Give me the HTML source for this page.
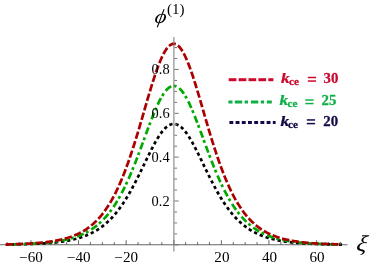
<!DOCTYPE html><html><head><meta charset="utf-8"><style>html,body{margin:0;padding:0;background:#fff}body{width:371px;height:267px;overflow:hidden}</style></head><body><svg width="371" height="267" viewBox="0 0 371 267" style="display:block;will-change:transform">
<rect width="371" height="267" fill="#fff"/>
<g stroke="#666" stroke-width="1" fill="none">
<path d="M0 244.75 H347.5"/>
<path d="M7.15 245 v-2.9"/>
<path d="M19.05 245 v-2.9"/>
<path d="M30.95 245 v-4.8"/>
<path d="M42.85 245 v-2.9"/>
<path d="M54.75 245 v-2.9"/>
<path d="M66.65 245 v-2.9"/>
<path d="M78.55 245 v-4.8"/>
<path d="M90.45 245 v-2.9"/>
<path d="M102.35 245 v-2.9"/>
<path d="M114.25 245 v-2.9"/>
<path d="M126.15 245 v-4.8"/>
<path d="M138.05 245 v-2.9"/>
<path d="M149.95 245 v-2.9"/>
<path d="M161.85 245 v-2.9"/>
<path d="M173.92 245 v-4.8"/>
<path d="M185.65 245 v-2.9"/>
<path d="M197.55 245 v-2.9"/>
<path d="M209.45 245 v-2.9"/>
<path d="M221.35 245 v-4.8"/>
<path d="M233.25 245 v-2.9"/>
<path d="M245.15 245 v-2.9"/>
<path d="M257.05 245 v-2.9"/>
<path d="M268.95 245 v-4.8"/>
<path d="M280.85 245 v-2.9"/>
<path d="M292.75 245 v-2.9"/>
<path d="M304.65 245 v-2.9"/>
<path d="M316.55 245 v-4.8"/>
<path d="M328.45 245 v-2.9"/>
<path d="M340.35 245 v-2.9"/>
</g>
<g fill="none" stroke-width="2.7">
<path d="M5.79 244.58 L6.99 244.56 L8.19 244.55 L9.39 244.53 L10.59 244.51 L11.79 244.50 L12.99 244.48 L14.19 244.46 L15.39 244.44 L16.59 244.41 L17.79 244.39 L18.99 244.36 L20.19 244.34 L21.39 244.31 L22.59 244.28 L23.79 244.25 L24.99 244.21 L26.19 244.18 L27.39 244.14 L28.59 244.10 L29.79 244.06 L30.99 244.02 L32.19 243.97 L33.39 243.93 L34.59 243.88 L35.79 243.82 L36.99 243.77 L38.19 243.71 L39.38 243.64 L40.58 243.58 L41.78 243.51 L42.98 243.44 L44.18 243.36 L45.38 243.28 L46.58 243.19 L47.78 243.10 L48.98 243.01 L50.18 242.91 L51.38 242.80 L52.58 242.69 L53.78 242.57 L54.98 242.45 L56.18 242.32 L57.38 242.18 L58.58 242.03 L59.78 241.88 L60.98 241.72 L62.18 241.55 L63.38 241.37 L64.58 241.18 L65.78 240.98 L66.98 240.78 L68.18 240.56 L69.38 240.32 L70.58 240.08 L71.78 239.82 L72.98 239.55 L74.18 239.27 L75.38 238.97 L76.58 238.66 L77.77 238.33 L78.97 237.98 L80.17 237.61 L81.37 237.23 L82.57 236.82 L83.77 236.40 L84.97 235.95 L86.17 235.48 L87.37 234.99 L88.57 234.47 L89.77 233.92 L90.97 233.35 L92.17 232.75 L93.37 232.13 L94.57 231.47 L95.77 230.77 L96.97 230.05 L98.17 229.29 L99.37 228.50 L100.57 227.66 L101.77 226.79 L102.97 225.88 L104.17 224.93 L105.37 223.93 L106.57 222.89 L107.77 221.81 L108.97 220.68 L110.17 219.50 L111.37 218.27 L112.57 216.98 L113.77 215.65 L114.97 214.26 L116.16 212.82 L117.36 211.33 L118.56 209.77 L119.76 208.16 L120.96 206.50 L122.16 204.77 L123.36 202.99 L124.56 201.15 L125.76 199.26 L126.96 197.30 L128.16 195.29 L129.36 193.23 L130.56 191.12 L131.76 188.95 L132.96 186.73 L134.16 184.47 L135.36 182.16 L136.56 179.82 L137.76 177.43 L138.96 175.02 L140.16 172.58 L141.36 170.12 L142.56 167.64 L143.76 165.15 L144.96 162.66 L146.16 160.18 L147.36 157.71 L148.56 155.25 L149.76 152.83 L150.96 150.44 L152.16 148.10 L153.36 145.82 L154.55 143.60 L155.75 141.45 L156.95 139.39 L158.15 137.42 L159.35 135.55 L160.55 133.79 L161.75 132.15 L162.95 130.64 L164.15 129.27 L165.35 128.04 L166.55 126.96 L167.75 126.04 L168.95 125.27 L170.15 124.68 L171.35 124.25 L172.55 123.99 L173.75 123.90 L174.95 123.99 L176.15 124.25 L177.35 124.68 L178.55 125.27 L179.75 126.04 L180.95 126.96 L182.15 128.04 L183.35 129.27 L184.55 130.64 L185.75 132.15 L186.95 133.79 L188.15 135.55 L189.35 137.42 L190.55 139.39 L191.75 141.45 L192.95 143.60 L194.14 145.82 L195.34 148.10 L196.54 150.44 L197.74 152.83 L198.94 155.25 L200.14 157.71 L201.34 160.18 L202.54 162.66 L203.74 165.15 L204.94 167.64 L206.14 170.12 L207.34 172.58 L208.54 175.02 L209.74 177.43 L210.94 179.82 L212.14 182.16 L213.34 184.47 L214.54 186.73 L215.74 188.95 L216.94 191.12 L218.14 193.23 L219.34 195.29 L220.54 197.30 L221.74 199.26 L222.94 201.15 L224.14 202.99 L225.34 204.77 L226.54 206.50 L227.74 208.16 L228.94 209.77 L230.14 211.33 L231.34 212.82 L232.53 214.26 L233.73 215.65 L234.93 216.98 L236.13 218.27 L237.33 219.50 L238.53 220.68 L239.73 221.81 L240.93 222.89 L242.13 223.93 L243.33 224.93 L244.53 225.88 L245.73 226.79 L246.93 227.66 L248.13 228.50 L249.33 229.29 L250.53 230.05 L251.73 230.77 L252.93 231.47 L254.13 232.13 L255.33 232.75 L256.53 233.35 L257.73 233.92 L258.93 234.47 L260.13 234.99 L261.33 235.48 L262.53 235.95 L263.73 236.40 L264.93 236.82 L266.13 237.23 L267.33 237.61 L268.53 237.98 L269.73 238.33 L270.92 238.66 L272.12 238.97 L273.32 239.27 L274.52 239.55 L275.72 239.82 L276.92 240.08 L278.12 240.32 L279.32 240.56 L280.52 240.78 L281.72 240.98 L282.92 241.18 L284.12 241.37 L285.32 241.55 L286.52 241.72 L287.72 241.88 L288.92 242.03 L290.12 242.18 L291.32 242.32 L292.52 242.45 L293.72 242.57 L294.92 242.69 L296.12 242.80 L297.32 242.91 L298.52 243.01 L299.72 243.10 L300.92 243.19 L302.12 243.28 L303.32 243.36 L304.52 243.44 L305.72 243.51 L306.92 243.58 L308.12 243.64 L309.31 243.71 L310.51 243.77 L311.71 243.82 L312.91 243.88 L314.11 243.93 L315.31 243.97 L316.51 244.02 L317.71 244.06 L318.91 244.10 L320.11 244.14 L321.31 244.18 L322.51 244.21 L323.71 244.25 L324.91 244.28 L326.11 244.31 L327.31 244.34 L328.51 244.36 L329.71 244.39 L330.91 244.41 L332.11 244.44 L333.31 244.46 L334.51 244.48 L335.71 244.50 L336.91 244.51 L338.11 244.53 L339.31 244.55 L340.51 244.56 L341.71 244.58" stroke="#000" stroke-dasharray="3.3 2.9" stroke-dashoffset="0.5"/>
<path d="M5.79 244.49 L6.99 244.47 L8.19 244.45 L9.39 244.43 L10.59 244.41 L11.79 244.39 L12.99 244.36 L14.19 244.33 L15.39 244.30 L16.59 244.27 L17.79 244.24 L18.99 244.21 L20.19 244.17 L21.39 244.14 L22.59 244.10 L23.79 244.06 L24.99 244.01 L26.19 243.97 L27.39 243.92 L28.59 243.87 L29.79 243.82 L30.99 243.76 L32.19 243.70 L33.39 243.64 L34.59 243.57 L35.79 243.50 L36.99 243.43 L38.19 243.35 L39.38 243.27 L40.58 243.18 L41.78 243.09 L42.98 242.99 L44.18 242.89 L45.38 242.78 L46.58 242.67 L47.78 242.55 L48.98 242.43 L50.18 242.29 L51.38 242.16 L52.58 242.01 L53.78 241.85 L54.98 241.69 L56.18 241.52 L57.38 241.34 L58.58 241.15 L59.78 240.95 L60.98 240.74 L62.18 240.51 L63.38 240.28 L64.58 240.03 L65.78 239.77 L66.98 239.50 L68.18 239.21 L69.38 238.90 L70.58 238.58 L71.78 238.25 L72.98 237.89 L74.18 237.52 L75.38 237.12 L76.58 236.71 L77.77 236.28 L78.97 235.82 L80.17 235.34 L81.37 234.83 L82.57 234.30 L83.77 233.74 L84.97 233.15 L86.17 232.54 L87.37 231.89 L88.57 231.21 L89.77 230.49 L90.97 229.74 L92.17 228.95 L93.37 228.13 L94.57 227.26 L95.77 226.35 L96.97 225.40 L98.17 224.40 L99.37 223.36 L100.57 222.26 L101.77 221.12 L102.97 219.92 L104.17 218.67 L105.37 217.36 L106.57 216.00 L107.77 214.57 L108.97 213.08 L110.17 211.53 L111.37 209.91 L112.57 208.23 L113.77 206.48 L114.97 204.65 L116.16 202.76 L117.36 200.79 L118.56 198.75 L119.76 196.64 L120.96 194.45 L122.16 192.18 L123.36 189.84 L124.56 187.42 L125.76 184.93 L126.96 182.37 L128.16 179.73 L129.36 177.01 L130.56 174.23 L131.76 171.38 L132.96 168.47 L134.16 165.50 L135.36 162.47 L136.56 159.38 L137.76 156.25 L138.96 153.08 L140.16 149.87 L141.36 146.64 L142.56 143.38 L143.76 140.11 L144.96 136.84 L146.16 133.58 L147.36 130.33 L148.56 127.10 L149.76 123.92 L150.96 120.78 L152.16 117.70 L153.36 114.70 L154.55 111.78 L155.75 108.96 L156.95 106.25 L158.15 103.66 L159.35 101.21 L160.55 98.90 L161.75 96.75 L162.95 94.76 L164.15 92.96 L165.35 91.34 L166.55 89.92 L167.75 88.71 L168.95 87.70 L170.15 86.92 L171.35 86.35 L172.55 86.01 L173.75 85.90 L174.95 86.01 L176.15 86.35 L177.35 86.92 L178.55 87.70 L179.75 88.71 L180.95 89.92 L182.15 91.34 L183.35 92.96 L184.55 94.76 L185.75 96.75 L186.95 98.90 L188.15 101.21 L189.35 103.66 L190.55 106.25 L191.75 108.96 L192.95 111.78 L194.14 114.70 L195.34 117.70 L196.54 120.78 L197.74 123.92 L198.94 127.10 L200.14 130.33 L201.34 133.58 L202.54 136.84 L203.74 140.11 L204.94 143.38 L206.14 146.64 L207.34 149.87 L208.54 153.08 L209.74 156.25 L210.94 159.38 L212.14 162.47 L213.34 165.50 L214.54 168.47 L215.74 171.38 L216.94 174.23 L218.14 177.01 L219.34 179.73 L220.54 182.37 L221.74 184.93 L222.94 187.42 L224.14 189.84 L225.34 192.18 L226.54 194.45 L227.74 196.64 L228.94 198.75 L230.14 200.79 L231.34 202.76 L232.53 204.65 L233.73 206.48 L234.93 208.23 L236.13 209.91 L237.33 211.53 L238.53 213.08 L239.73 214.57 L240.93 216.00 L242.13 217.36 L243.33 218.67 L244.53 219.92 L245.73 221.12 L246.93 222.26 L248.13 223.36 L249.33 224.40 L250.53 225.40 L251.73 226.35 L252.93 227.26 L254.13 228.13 L255.33 228.95 L256.53 229.74 L257.73 230.49 L258.93 231.21 L260.13 231.89 L261.33 232.54 L262.53 233.15 L263.73 233.74 L264.93 234.30 L266.13 234.83 L267.33 235.34 L268.53 235.82 L269.73 236.28 L270.92 236.71 L272.12 237.12 L273.32 237.52 L274.52 237.89 L275.72 238.25 L276.92 238.58 L278.12 238.90 L279.32 239.21 L280.52 239.50 L281.72 239.77 L282.92 240.03 L284.12 240.28 L285.32 240.51 L286.52 240.74 L287.72 240.95 L288.92 241.15 L290.12 241.34 L291.32 241.52 L292.52 241.69 L293.72 241.85 L294.92 242.01 L296.12 242.16 L297.32 242.29 L298.52 242.43 L299.72 242.55 L300.92 242.67 L302.12 242.78 L303.32 242.89 L304.52 242.99 L305.72 243.09 L306.92 243.18 L308.12 243.27 L309.31 243.35 L310.51 243.43 L311.71 243.50 L312.91 243.57 L314.11 243.64 L315.31 243.70 L316.51 243.76 L317.71 243.82 L318.91 243.87 L320.11 243.92 L321.31 243.97 L322.51 244.01 L323.71 244.06 L324.91 244.10 L326.11 244.14 L327.31 244.17 L328.51 244.21 L329.71 244.24 L330.91 244.27 L332.11 244.30 L333.31 244.33 L334.51 244.36 L335.71 244.39 L336.91 244.41 L338.11 244.43 L339.31 244.45 L340.51 244.47 L341.71 244.49" stroke="#00aa00" stroke-dasharray="7.2 2.55 2.85 3.35" stroke-dashoffset="7.8"/>
<path d="M5.79 244.40 L6.99 244.38 L8.19 244.35 L9.39 244.32 L10.59 244.29 L11.79 244.26 L12.99 244.23 L14.19 244.20 L15.39 244.16 L16.59 244.12 L17.79 244.08 L18.99 244.04 L20.19 244.00 L21.39 243.95 L22.59 243.90 L23.79 243.85 L24.99 243.79 L26.19 243.74 L27.39 243.67 L28.59 243.61 L29.79 243.54 L30.99 243.47 L32.19 243.39 L33.39 243.31 L34.59 243.23 L35.79 243.14 L36.99 243.05 L38.19 242.95 L39.38 242.85 L40.58 242.74 L41.78 242.62 L42.98 242.50 L44.18 242.37 L45.38 242.24 L46.58 242.09 L47.78 241.94 L48.98 241.79 L50.18 241.62 L51.38 241.44 L52.58 241.26 L53.78 241.06 L54.98 240.85 L56.18 240.64 L57.38 240.41 L58.58 240.17 L59.78 239.91 L60.98 239.65 L62.18 239.36 L63.38 239.07 L64.58 238.75 L65.78 238.42 L66.98 238.08 L68.18 237.71 L69.38 237.33 L70.58 236.92 L71.78 236.50 L72.98 236.05 L74.18 235.57 L75.38 235.08 L76.58 234.55 L77.77 234.00 L78.97 233.43 L80.17 232.82 L81.37 232.18 L82.57 231.51 L83.77 230.80 L84.97 230.05 L86.17 229.27 L87.37 228.45 L88.57 227.59 L89.77 226.69 L90.97 225.74 L92.17 224.74 L93.37 223.70 L94.57 222.60 L95.77 221.45 L96.97 220.25 L98.17 218.99 L99.37 217.67 L100.57 216.28 L101.77 214.84 L102.97 213.32 L104.17 211.74 L105.37 210.08 L106.57 208.35 L107.77 206.55 L108.97 204.67 L110.17 202.71 L111.37 200.66 L112.57 198.53 L113.77 196.31 L114.97 194.01 L116.16 191.61 L117.36 189.12 L118.56 186.54 L119.76 183.87 L120.96 181.10 L122.16 178.23 L123.36 175.27 L124.56 172.21 L125.76 169.06 L126.96 165.82 L128.16 162.48 L129.36 159.05 L130.56 155.53 L131.76 151.93 L132.96 148.24 L134.16 144.48 L135.36 140.65 L136.56 136.75 L137.76 132.79 L138.96 128.77 L140.16 124.72 L141.36 120.62 L142.56 116.51 L143.76 112.37 L144.96 108.23 L146.16 104.10 L147.36 99.99 L148.56 95.92 L149.76 91.89 L150.96 87.92 L152.16 84.03 L153.36 80.23 L154.55 76.54 L155.75 72.97 L156.95 69.54 L158.15 66.27 L159.35 63.16 L160.55 60.24 L161.75 57.52 L162.95 55.01 L164.15 52.73 L165.35 50.68 L166.55 48.89 L167.75 47.35 L168.95 46.08 L170.15 45.09 L171.35 44.37 L172.55 43.94 L173.75 43.80 L174.95 43.94 L176.15 44.37 L177.35 45.09 L178.55 46.08 L179.75 47.35 L180.95 48.89 L182.15 50.68 L183.35 52.73 L184.55 55.01 L185.75 57.52 L186.95 60.24 L188.15 63.16 L189.35 66.27 L190.55 69.54 L191.75 72.97 L192.95 76.54 L194.14 80.23 L195.34 84.03 L196.54 87.92 L197.74 91.89 L198.94 95.92 L200.14 99.99 L201.34 104.10 L202.54 108.23 L203.74 112.37 L204.94 116.51 L206.14 120.62 L207.34 124.72 L208.54 128.77 L209.74 132.79 L210.94 136.75 L212.14 140.65 L213.34 144.48 L214.54 148.24 L215.74 151.93 L216.94 155.53 L218.14 159.05 L219.34 162.48 L220.54 165.82 L221.74 169.06 L222.94 172.21 L224.14 175.27 L225.34 178.23 L226.54 181.10 L227.74 183.87 L228.94 186.54 L230.14 189.12 L231.34 191.61 L232.53 194.01 L233.73 196.31 L234.93 198.53 L236.13 200.66 L237.33 202.71 L238.53 204.67 L239.73 206.55 L240.93 208.35 L242.13 210.08 L243.33 211.74 L244.53 213.32 L245.73 214.84 L246.93 216.28 L248.13 217.67 L249.33 218.99 L250.53 220.25 L251.73 221.45 L252.93 222.60 L254.13 223.70 L255.33 224.74 L256.53 225.74 L257.73 226.69 L258.93 227.59 L260.13 228.45 L261.33 229.27 L262.53 230.05 L263.73 230.80 L264.93 231.51 L266.13 232.18 L267.33 232.82 L268.53 233.43 L269.73 234.00 L270.92 234.55 L272.12 235.08 L273.32 235.57 L274.52 236.05 L275.72 236.50 L276.92 236.92 L278.12 237.33 L279.32 237.71 L280.52 238.08 L281.72 238.42 L282.92 238.75 L284.12 239.07 L285.32 239.36 L286.52 239.65 L287.72 239.91 L288.92 240.17 L290.12 240.41 L291.32 240.64 L292.52 240.85 L293.72 241.06 L294.92 241.26 L296.12 241.44 L297.32 241.62 L298.52 241.79 L299.72 241.94 L300.92 242.09 L302.12 242.24 L303.32 242.37 L304.52 242.50 L305.72 242.62 L306.92 242.74 L308.12 242.85 L309.31 242.95 L310.51 243.05 L311.71 243.14 L312.91 243.23 L314.11 243.31 L315.31 243.39 L316.51 243.47 L317.71 243.54 L318.91 243.61 L320.11 243.67 L321.31 243.74 L322.51 243.79 L323.71 243.85 L324.91 243.90 L326.11 243.95 L327.31 244.00 L328.51 244.04 L329.71 244.08 L330.91 244.12 L332.11 244.16 L333.31 244.20 L334.51 244.23 L335.71 244.26 L336.91 244.29 L338.11 244.32 L339.31 244.35 L340.51 244.38 L341.71 244.40" stroke="#aa0000" stroke-dasharray="7.4 2.5"/>
</g>
<rect x="339.2" y="243.5" width="2.5" height="2.4" fill="#000"/>
<path d="M340.35 245 v-3" stroke="#666" stroke-width="1"/>
<g stroke="#787878" stroke-width="1" fill="none">
<path d="M173.92 37 V251.5"/>
<path d="M174.3 244.85 h4.4"/>
<path d="M174.3 233.89 h2.8"/>
<path d="M174.3 222.93 h2.8"/>
<path d="M174.3 211.97 h2.8"/>
<path d="M174.3 201.01 h4.4"/>
<path d="M174.3 190.05 h2.8"/>
<path d="M174.3 179.09 h2.8"/>
<path d="M174.3 168.13 h2.8"/>
<path d="M174.3 157.17 h4.4"/>
<path d="M174.3 146.21 h2.8"/>
<path d="M174.3 135.25 h2.8"/>
<path d="M174.3 124.29 h2.8"/>
<path d="M174.3 113.33 h4.4"/>
<path d="M174.3 102.37 h2.8"/>
<path d="M174.3 91.41 h2.8"/>
<path d="M174.3 80.45 h2.8"/>
<path d="M174.3 69.49 h4.4"/>
<path d="M174.3 58.53 h2.8"/>
<path d="M174.3 47.57 h2.8"/>
</g>
<g style="font-family:&quot;Liberation Serif&quot;,serif" font-size="14" fill="#000">
<text transform="translate(31.1,262.1) scale(1.08,1)" text-anchor="middle">−60</text>
<text transform="translate(78.7,262.1) scale(1.08,1)" text-anchor="middle">−40</text>
<text transform="translate(126.2,262.1) scale(1.08,1)" text-anchor="middle">−20</text>
<text transform="translate(221.9,262.1) scale(1.08,1)" text-anchor="middle">20</text>
<text transform="translate(269.6,262.1) scale(1.08,1)" text-anchor="middle">40</text>
<text transform="translate(317.1,262.1) scale(1.08,1)" text-anchor="middle">60</text>
<text transform="translate(169.6,206.0) scale(1.03,1)" text-anchor="end">0.2</text>
<text transform="translate(169.6,162.0) scale(1.03,1)" text-anchor="end">0.4</text>
<text transform="translate(169.6,118.0) scale(1.03,1)" text-anchor="end">0.6</text>
<text transform="translate(169.6,74.0) scale(1.03,1)" text-anchor="end">0.8</text>
</g>
<text transform="translate(154.1,23.2) scale(1.063,0.95) skewX(-9)" style="font-family:&quot;Liberation Serif&quot;,serif" font-style="italic" font-size="21" fill="#000">ϕ</text>
<text x="167.0" y="13.7" style="font-family:&quot;Liberation Serif&quot;,serif" font-size="15" fill="#000">(1)</text>
<text transform="translate(355.6,251.3) scale(1.18,1.08) skewX(-10)" style="font-family:&quot;Liberation Serif&quot;,serif" font-style="italic" font-size="21" fill="#000">ξ</text>
<rect x="228.7" y="78.2" width="7.7" height="3" fill="#cc0a2e"/>
<rect x="238.6" y="78.2" width="7.7" height="3" fill="#cc0a2e"/>
<rect x="248.5" y="78.2" width="7.7" height="3" fill="#cc0a2e"/>
<rect x="258.4" y="78.2" width="7.7" height="3" fill="#cc0a2e"/>
<rect x="268.3" y="78.2" width="5.1" height="3" fill="#cc0a2e"/>
<g style="font-family:&quot;Liberation Serif&quot;,serif" font-weight="bold" fill="#cc0a2e" stroke="#cc0a2e" stroke-width="0.25">
<text transform="translate(281.0,83.0) scale(1.2,1)" font-style="italic" font-size="14.5">k</text>
<text transform="translate(288.9,85.1) scale(1.07,1)" font-size="10.5">ce</text>
<rect x="307.80" y="76.75" width="8.3" height="1.5" stroke="none"/><rect x="307.80" y="80.30" width="8.3" height="1.5" stroke="none"/>
<text transform="translate(323.6,83.0) scale(1.06,1)" font-size="14">30</text>
</g>
<rect x="228.4" y="100.5" width="4.1" height="3" fill="#10b048"/>
<rect x="234.8" y="100.5" width="7.4" height="3" fill="#10b048"/>
<rect x="244.6" y="100.5" width="3.4" height="3" fill="#10b048"/>
<rect x="250.9" y="100.5" width="7.4" height="3" fill="#10b048"/>
<rect x="260.8" y="100.5" width="3.3" height="3" fill="#10b048"/>
<rect x="266.8" y="100.5" width="5.0" height="3" fill="#10b048"/>
<g style="font-family:&quot;Liberation Serif&quot;,serif" font-weight="bold" fill="#10b048" stroke="#10b048" stroke-width="0.25">
<text transform="translate(279.6,105.1) scale(1.2,1)" font-style="italic" font-size="14.5">k</text>
<text transform="translate(287.5,107.2) scale(1.07,1)" font-size="10.5">ce</text>
<rect x="305.30" y="99.25" width="8.3" height="1.5" stroke="none"/><rect x="305.30" y="102.80" width="8.3" height="1.5" stroke="none"/>
<text transform="translate(321.5,105.1) scale(1.06,1)" font-size="14">25</text>
</g>
<rect x="229.4" y="121.0" width="3.9" height="3" fill="#140a46"/>
<rect x="235.6" y="121.0" width="3.9" height="3" fill="#140a46"/>
<rect x="241.8" y="121.0" width="3.9" height="3" fill="#140a46"/>
<rect x="248.0" y="121.0" width="3.9" height="3" fill="#140a46"/>
<rect x="254.2" y="121.0" width="3.9" height="3" fill="#140a46"/>
<rect x="260.4" y="121.0" width="3.9" height="3" fill="#140a46"/>
<rect x="266.6" y="121.0" width="3.9" height="3" fill="#140a46"/>
<rect x="272.8" y="121.0" width="2.8" height="3" fill="#140a46"/>
<g style="font-family:&quot;Liberation Serif&quot;,serif" font-weight="bold" fill="#140a46" stroke="#140a46" stroke-width="0.25">
<text transform="translate(280.4,125.5) scale(1.2,1)" font-style="italic" font-size="14.5">k</text>
<text transform="translate(288.1,127.6) scale(1.07,1)" font-size="10.5">ce</text>
<rect x="306.80" y="119.20" width="8.3" height="1.5" stroke="none"/><rect x="306.80" y="122.85" width="8.3" height="1.5" stroke="none"/>
<text transform="translate(323.3,125.5) scale(1.06,1)" font-size="14">20</text>
</g>
</svg></body></html>
